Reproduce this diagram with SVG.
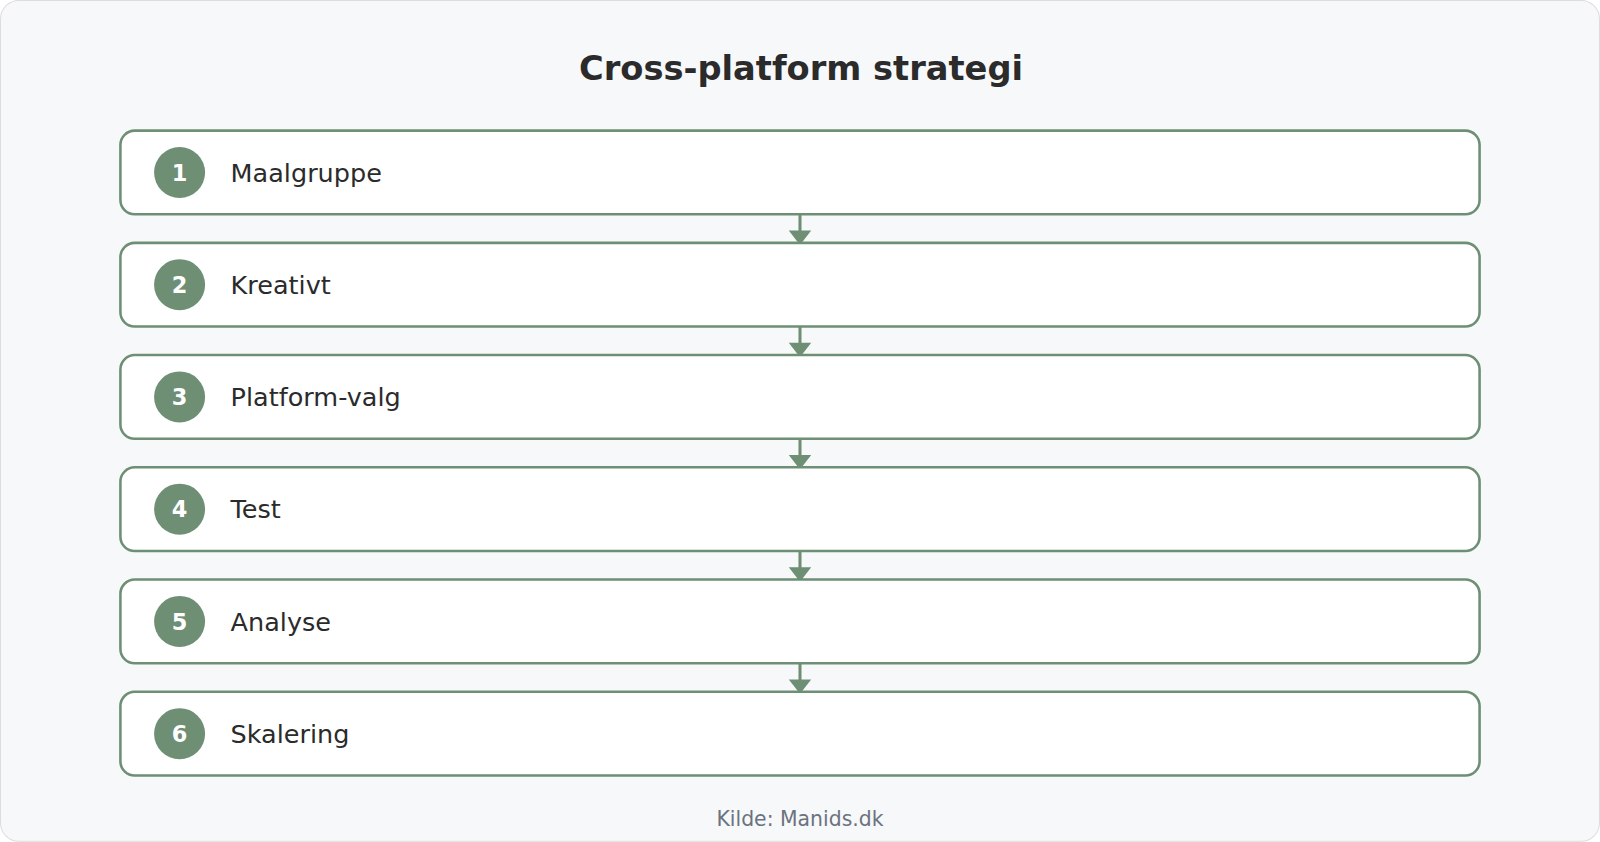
<svg xmlns="http://www.w3.org/2000/svg" width="1600" height="842" viewBox="0 0 1600 842">
<style>
.box{fill:#fff;stroke:#6e8f74;stroke-width:2.5}
.num{fill:#6e8f74}
.nt{font-family:"DejaVu Sans",sans-serif;font-weight:bold;font-size:22px;fill:#fff;text-anchor:middle}
.lb{font-family:"DejaVu Sans",sans-serif;font-size:25px;fill:#2b2b2b}
.con{stroke:#6e8f74;stroke-width:3}
</style>
<g transform="scale(1.0204)">
<rect x="0.5" y="0.5" width="1567" height="824" rx="18" fill="#f7f8fa" stroke="#dcdde0"/>
<text x="785" y="78" text-anchor="middle" font-family="DejaVu Sans,sans-serif" font-weight="bold" font-size="33" fill="#2b2b2b">Cross-platform strategi</text>
<g id="connectors">
<path class="con" d="M784,210V228"/><path d="M773,226H795L784,240Z" class="num"/>
<path class="con" d="M784,320V338"/><path d="M773,336H795L784,350Z" class="num"/>
<path class="con" d="M784,430V448"/><path d="M773,446H795L784,460Z" class="num"/>
<path class="con" d="M784,540V558"/><path d="M773,556H795L784,570Z" class="num"/>
<path class="con" d="M784,650V668"/><path d="M773,666H795L784,680Z" class="num"/>
</g>
<g id="n1"><rect class="box" x="118" y="128" width="1332" height="82" rx="14"/><circle class="num" cx="176" cy="169" r="25"/><text class="nt" x="176" y="177">1</text><text class="lb" x="226" y="178">Maalgruppe</text></g>
<g id="n2"><rect class="box" x="118" y="238" width="1332" height="82" rx="14"/><circle class="num" cx="176" cy="279" r="25"/><text class="nt" x="176" y="287">2</text><text class="lb" x="226" y="288">Kreativt</text></g>
<g id="n3"><rect class="box" x="118" y="348" width="1332" height="82" rx="14"/><circle class="num" cx="176" cy="389" r="25"/><text class="nt" x="176" y="397">3</text><text class="lb" x="226" y="398">Platform-valg</text></g>
<g id="n4"><rect class="box" x="118" y="458" width="1332" height="82" rx="14"/><circle class="num" cx="176" cy="499" r="25"/><text class="nt" x="176" y="507">4</text><text class="lb" x="226" y="508">Test</text></g>
<g id="n5"><rect class="box" x="118" y="568" width="1332" height="82" rx="14"/><circle class="num" cx="176" cy="609" r="25"/><text class="nt" x="176" y="617">5</text><text class="lb" x="226" y="618">Analyse</text></g>
<g id="n6"><rect class="box" x="118" y="678" width="1332" height="82" rx="14"/><circle class="num" cx="176" cy="719" r="25"/><text class="nt" x="176" y="727">6</text><text class="lb" x="226" y="728">Skalering</text></g>
<text x="784" y="809" text-anchor="middle" font-family="DejaVu Sans,sans-serif" font-size="20" fill="#6b7280">Kilde: Manids.dk</text>
</g>
</svg>
